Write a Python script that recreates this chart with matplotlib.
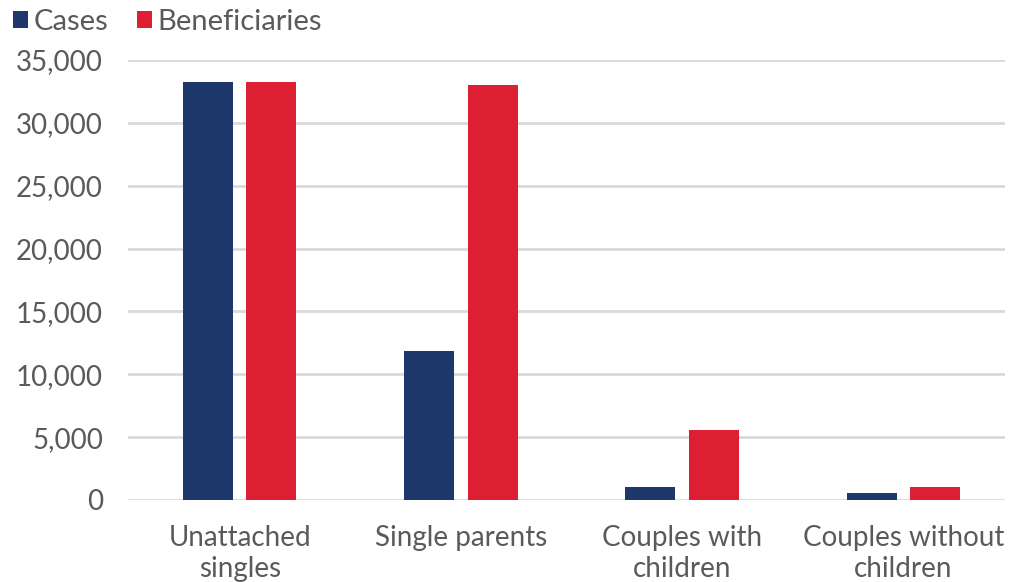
import matplotlib
matplotlib.use("Agg")
import matplotlib.pyplot as plt
import numpy as np

categories = ["Unattached\nsingles", "Single parents", "Couples with\nchildren", "Couples without\nchildren"]
cases = [33250, 11850, 1070, 590]
beneficiaries = [33250, 33050, 5550, 1070]
yticks = [0, 5000, 10000, 15000, 20000, 25000, 30000, 35000]

NAVY, RED, GRID, TXT = "#1F386C", "#DC1F32", "#D9D9D9", "#5A5A5A"
plt.rcParams["font.family"] = ["Lato", "DejaVu Sans"]

fig = plt.figure(figsize=(10.14, 5.82), dpi=100)
ax = fig.add_axes([128 / 1014, 1 - 500 / 582, (1005 - 128) / 1014, (500 - 60) / 582])

x = np.arange(len(categories))
w = 0.226
off = 0.143
ax.bar(x - off, cases, w, color=NAVY, zorder=3, label="Cases")
ax.bar(x + off, beneficiaries, w, color=RED, zorder=3, label="Beneficiaries")

ax.set_xlim(-0.505, 3.46)
ax.set_ylim(0, 35000)
ax.set_yticks(yticks)
ax.set_yticklabels([f"{v:,}" for v in yticks])
ax.set_xticks(x)
ax.set_xticklabels(categories, linespacing=1.25)
ax.grid(axis="y", color=GRID, lw=2, zorder=0)
ax.set_axisbelow(True)
for s in ax.spines.values():
    s.set_visible(False)
ax.tick_params(axis="both", length=0, labelsize=20, colors=TXT)
ax.tick_params(axis="y", pad=18)
ax.tick_params(axis="x", pad=18)

leg = fig.legend(loc="upper left", bbox_to_anchor=(-0.013, 1.03), ncol=2, frameon=False,
                 fontsize=21, handlelength=0.5, handleheight=0.55, handletextpad=0.2,
                 columnspacing=1.0, labelcolor=TXT)

fig.savefig("out.png", dpi=100, facecolor="white")
